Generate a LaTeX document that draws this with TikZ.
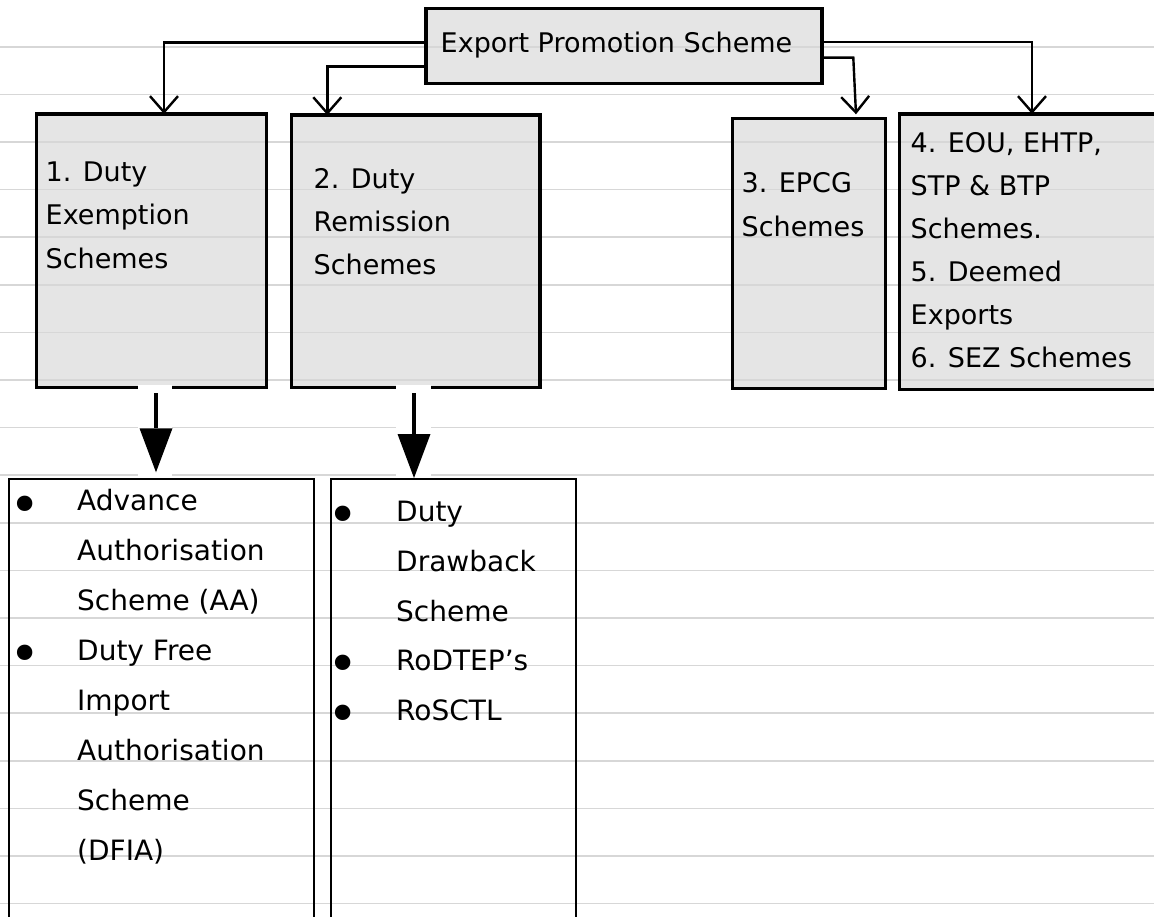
\documentclass[tikz,border=0pt]{standalone}
\usepackage{fontspec}
\setmainfont{DejaVu Sans}
\usetikzlibrary{arrows.meta}
\definecolor{boxgray}{RGB}{229,229,229}
\definecolor{rulegray}{RGB}{215,215,215}
\pgfdeclarelayer{fills}
\pgfdeclarelayer{rules}
\pgfsetlayers{fills,rules,main}
\tikzset{
  topbox/.style={draw, line width=3.2pt, outer sep=0pt, inner sep=0pt},
  botbox/.style={draw, line width=2pt, outer sep=0pt, inner sep=0pt},
  conn/.style={line width=2.4pt, -{Straight Barb[length=16pt,width=28pt]}},
  bigarrow/.style={line width=4.5pt, -{Triangle[length=44pt,width=33pt,line width=0pt]}},
  toptext/.style={anchor=base west, inner sep=0pt, align=left, font=\fontsize{27}{43.3}\selectfont},
  listtext/.style={anchor=base west, inner sep=0pt, align=left, font=\fontsize{28}{49.9}\selectfont},
  bulletmark/.style={anchor=base, inner sep=0pt, font=\fontsize{53}{53}\selectfont},
  ruleline/.style={draw=rulegray, line width=1.7pt}
}
\begin{document}
\begin{tikzpicture}[x=1pt,y=-1pt]
\useasboundingbox (0,0) rectangle (1154,917);
% boxes
\node[topbox, minimum width=396pt, minimum height=75pt] (ex) at (624,45.8) {};
\node[topbox, minimum width=230pt, minimum height=273.3pt] (tb1) at (151.7,250.6) {};
\node[topbox, minimum width=248.3pt, minimum height=272.3pt] (tb2) at (415.8,251.2) {};
\node[topbox, minimum width=153pt, minimum height=270pt] (tb3) at (809.2,253.3) {};
\node[topbox, minimum width=262pt, minimum height=275.3pt] (tb4) at (1030.3,251.6) {};
\node[botbox, minimum width=305pt, minimum height=452pt] (bb1) at (161.5,705.3) {};
\node[botbox, minimum width=245.3pt, minimum height=452pt] (bb2) at (453.3,705) {};
% fills and ruled lines
\begin{pgfonlayer}{fills}
  \fill[white] (0,0) rectangle (1154,917);
  \foreach \n in {ex,tb1,tb2,tb3,tb4}
    \fill[boxgray] (\n.north west) rectangle (\n.south east);
\end{pgfonlayer}
\begin{pgfonlayer}{rules}
  \foreach \k in {1,...,19}
    \draw[ruleline] (0,{47.6*\k-0.8}) -- (1154,{47.6*\k-0.8});
\end{pgfonlayer}
% connectors from the top box
\draw[conn] ([yshift=3.1pt]ex.west) -| ([xshift=12.3pt]tb1.north);
\draw[conn] ([yshift=-20.9pt]ex.west) -| ([xshift=-88.5pt]tb2.north);
\draw[conn] ([yshift=-11.9pt]ex.east) -- ++(31.3,0) -- ([xshift=46.8pt,yshift=4pt]tb3.north);
\draw[conn] ([yshift=3.5pt]ex.east) -| ([xshift=1.7pt]tb4.north);
% thick arrows
\coordinate (a1) at (156,0);
\coordinate (a2) at (414,0);
\fill[white] (138,385) rectangle (172,477);
\fill[white] (395.7,385) rectangle (430.7,477);
\draw[bigarrow, shorten <=6pt, shorten >=7pt] (tb1.south -| a1) -- (bb1.north -| a1);
\draw[bigarrow, shorten <=6pt, shorten >=1pt] (tb2.south -| a2) -- (bb2.north -| a2);
% texts (base anchor = baseline of the last line)
\node[toptext] (tex) at (440.5,52.7) {Export Promotion Scheme};
\node[toptext] (t1) at (45.5,268.3) {1. Duty\\Exemption\\Schemes};
\node[toptext] (t2) at (313.5,275) {2. Duty\\Remission\\Schemes};
\node[toptext, font=\fontsize{27}{44}\selectfont] (t3) at (741.5,236.7) {3. EPCG\\Schemes};
\node[toptext, font=\fontsize{27}{43}\selectfont] (t4) at (910.5,367.7) {4. EOU, EHTP,\\STP \& BTP\\Schemes.\\5. Deemed\\Exports\\6. SEZ Schemes};
\node[listtext] (l1) at (77,860) {Advance\\Authorisation\\Scheme (AA)\\Duty Free\\Import\\Authorisation\\Scheme\\(DFIA)};
\node[listtext, font=\fontsize{28}{49.7}\selectfont] (l2) at (396,720.5) {Duty\\Drawback\\Scheme\\RoDTEP’s\\RoSCTL};
\node[bulletmark] (p1) at (25,523.7) {•};
\node[bulletmark] (p2) at (25,672) {•};
\node[bulletmark] (p3) at (343.3,533) {•};
\node[bulletmark] (p4) at (343.3,682) {•};
\node[bulletmark] (p5) at (343.3,732) {•};
\end{tikzpicture}
\end{document}
